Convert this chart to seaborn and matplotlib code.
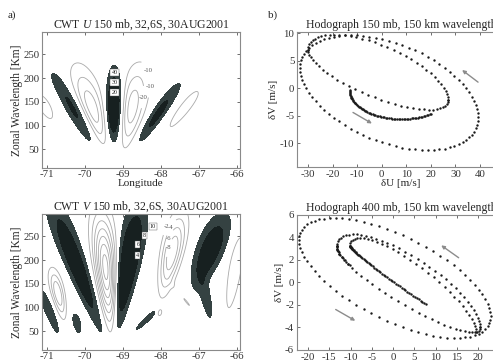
import numpy as np
import matplotlib
matplotlib.use("Agg")
import matplotlib.pyplot as plt
import seaborn as sns

# ---- CWT panels: lobes ----
# (lon_top, wl_top, lon_bottom, wl_bottom, width_top, width_bottom, amplitude)
u_lobes = [
    (-70.83, 213, -69.69, 51, 0.50, 0.40, 25),
    (-70.18, 232, -69.43, 44, 0.95, 0.55, -36),
    (-69.20, 230, -69.24, 44, 0.55, 0.50, 45),
    (-68.55, 234, -68.95, 44, 0.95, 0.55, -36),
    (-67.50, 190, -68.64, 58, 0.45, 0.35, 24),
    (-67.05, 172, -67.72, 98, 0.35, 0.28, -13),
    (-71.20, 165, -70.90, 115, 0.35, 0.28, -13),
]
v_lobes = [
    (-70.93, 340, -69.53, 44, 0.85, 0.35, 9),
    (-71.15, 138, -70.71, 48, 0.25, 0.20, 5),
    (-70.25, 86, -70.15, 48, 0.20, 0.18, 4),
    (-70.85, 185, -70.55, 75, 0.45, 0.30, -8),
    (-69.60, 330, -69.30, 40, 1.00, 0.45, -15),
    (-68.55, 335, -69.15, 45, 0.95, 0.35, 12),
    (-68.10, 96, -68.63, 54, 0.18, 0.15, 4),
    (-67.45, 310, -67.95, 120, 0.80, 0.50, -10),
    (-67.45, 127, -67.16, 96, 0.12, 0.12, -2.5),
    (-68.03, 98, -68.03, 86, 0.08, 0.08, -2.5),
    (-66.35, 300, -67.05, 140, 0.90, 0.65, 9),
    (-66.90, 160, -66.70, 80, 0.25, 0.20, 4),
    (-65.90, 250, -66.20, 100, 0.35, 0.28, -4),
]
u_fill = [10, 20]
u_neg = [-30, -20, -10]
v_fill = [2, 5]
v_neg = [-14, -12, -10, -8, -6, -4, -2]
u_boxes = [(-69.21, 212, "40"), (-69.21, 191, "30"), (-69.21, 170, "20")]
v_boxes = [(-68.20, 271, "10"), (-68.42, 252, "8"), (-68.60, 233, "6"), (-68.60, 210, "4")]
u_label_pos = [(-68.15, 222), (-68.33, 183), (-68.45, 160)]
v_label_pos = [(-68.25, 285), (-67.75, 270), (-67.75, 245), (-67.75, 225)]

lon_ticks = [-71, -70, -69, -68, -67, -66]
wl_ticks = [50, 100, 150, 200, 250]

# ---- hodographs: dotted arcs ----
# u = cu + a*cos t ; v = cv + b1*cos t + b2*sin t  (t in degrees)
# (cu, cv, a, b1, b2, t_start, t_end, n_dots)
hodo150_arcs = [
    (3.0, -0.8, 36.2, -4.5, 9.4, 0, 360, 84),
    (-1.5, 2.4, 28.5, -4.6, 5.7, 0, 180, 36),
    (-1.5, 2.4, 28.5, -4.6, 4.3, 180, 360, 34),
    (8.0, -0.4, 21.0, 0.0, 5.2, 180, 305, 70),
]
hodo400_arcs = [
    (0.4, 0.4, 22.5, -3.4, 4.1, 0, 360, 76),
    (3.6, -0.4, 16.9, -3.6, 3.0, 0, 180, 38),
    (3.6, -0.4, 16.9, -3.6, 1.8, 180, 360, 34),
    (3.6, -0.4, 16.9, -3.6, 1.8, 180, 215, 14),
    (4.7, -0.57, 14.8, -3.83, 2.4, 0, 180, 34),
    (4.7, -0.57, 14.8, -3.83, 0.6, 180, 282, 60),
]
hodo150_arrows = [((-11.7, -4.4), (-4.0, -6.4)), ((39.2, 1.1), (32.7, 3.3))]
hodo400_arrows = [((-13.5, -2.4), (-8.9, -3.4)), ((15.4, 2.2), (11.3, 3.3))]


def lobe_field(lon, wl, lobe, thr):
    lt, wt, lb, wb, w_top, w_bot, amp = lobe
    k = np.sqrt(2 * np.log(abs(amp) / thr))
    frac = (wl - wb) / (wt - wb)
    lon_c = lb + frac * (lt - lb)
    width = w_bot + np.clip(frac, 0, 1) * (w_top - w_bot)
    sx = width / 2 / k
    s = (frac - 0.5) * 2
    return amp * np.exp(-0.5 * ((lon - lon_c) / sx) ** 2 - 0.5 * (s * k) ** 2)


def arc_points(arcs):
    us, vs = [], []
    for cu, cv, a, b1, b2, t0, t1, n in arcs:
        t = np.deg2rad(np.linspace(t0, t1, n, endpoint=(t1 - t0) < 360))
        us.append(cu + a * np.cos(t))
        vs.append(cv + b1 * np.cos(t) + b2 * np.sin(t))
    return np.concatenate(us), np.concatenate(vs)


sns.set_theme(style="ticks")
plt.rcParams["font.family"] = ["Liberation Serif", "DejaVu Serif"]
plt.rcParams["mathtext.fontset"] = "custom"
plt.rcParams["mathtext.rm"] = "Liberation Serif"
plt.rcParams["mathtext.it"] = "Liberation Serif:italic"
plt.rcParams["axes.unicode_minus"] = False

fig = plt.figure(figsize=(4.93, 3.64), dpi=100)
ax_u = fig.add_axes([0.0852, 0.5398, 0.4016, 0.3723])
ax_v = fig.add_axes([0.0852, 0.0398, 0.4016, 0.3723])
ax_h1 = fig.add_axes([0.6024, 0.5412, 0.4211, 0.3709])
ax_h2 = fig.add_axes([0.6024, 0.0385, 0.4211, 0.3709])

LON, WL = np.meshgrid(np.linspace(-71.4, -65.6, 320), np.linspace(0, 340, 320))


def cwt_panel(ax, lobes, fill, neg, boxes, label_pos, title):
    field = sum(lobe_field(LON, WL, lb, fill[0]) for lb in lobes)
    ax.contourf(LON, WL, field, levels=[fill[0], fill[1], 1e9],
                colors=["#354242", "#172020"])
    cs = ax.contour(LON, WL, field, levels=neg, colors="#a9a9a9",
                    linewidths=0.6, linestyles="solid")
    labels = ax.clabel(cs, manual=label_pos, fontsize=4.8, fmt="%d", colors="#555555")
    for lab in labels:
        lab.set_rotation(0)
    for lon, wl, txt in boxes:
        ax.text(lon, wl, txt, fontsize=4.3, ha="center", va="center", color="k",
                bbox=dict(boxstyle="square,pad=0.2", fc="white", ec="#555555", lw=0.3))
    ax.set_xlim(-71.12, -65.91)
    ax.set_ylim(12, 297)
    ax.set_xticks(lon_ticks)
    ax.set_yticks(wl_ticks)
    ax.set_title(title, fontsize=8.5, pad=3)
    ax.set_ylabel("Zonal Wavelength [Km]", fontsize=8.3, labelpad=0)


def style(ax):
    ax.tick_params(direction="in", length=2, width=0.5, labelsize=7.8, pad=2,
                   top=True, right=True, colors="#333333")
    for sp in ax.spines.values():
        sp.set_color("#8a8a8a")
        sp.set_linewidth(0.8)


cwt_panel(ax_u, u_lobes, u_fill, u_neg, u_boxes, u_label_pos,
          "CWT $U$ 150 mb, 32,6S, 30AUG2001")
ax_u.set_xlabel("Longitude", fontsize=8, labelpad=0)
cwt_panel(ax_v, v_lobes, v_fill, v_neg, v_boxes, v_label_pos,
          "CWT $V$ 150 mb, 32,6S, 30AUG2001")


def hodo_panel(ax, arcs, arrows, title):
    u, v = arc_points(arcs)
    sns.scatterplot(x=u, y=v, ax=ax, s=3.0, color="k", linewidth=0, legend=False)
    for tail, head in arrows:
        ax.annotate("", xy=head, xytext=tail,
                    arrowprops=dict(arrowstyle="-|>", color="#8c8c8c", lw=1.0,
                                    mutation_scale=5, shrinkA=0, shrinkB=0))
    ax.set_title(title, fontsize=8.5, pad=3)
    ax.set_ylabel("\u03b4V [m/s]", fontsize=8, labelpad=1)


hodo_panel(ax_h1, hodo150_arcs, hodo150_arrows, "Hodograph 150 mb, 150 km wavelength")
ax_h1.set_xlim(-34.5, 50)
ax_h1.set_ylim(-14.3, 10.2)
ax_h1.set_xticks([-30, -20, -10, 0, 10, 20, 30, 40])
ax_h1.set_yticks([-10, -5, 0, 5, 10])
ax_h1.set_xlabel("\u03b4U [m/s]", fontsize=8, labelpad=0)

hodo_panel(ax_h2, hodo400_arcs, hodo400_arrows, "Hodograph 400 mb, 150 km wavelength")
ax_h2.set_xlim(-22.6, 26.2)
ax_h2.set_ylim(-6, 6)
ax_h2.set_xticks([-20, -15, -10, -5, 0, 5, 10, 15, 20])
ax_h2.set_yticks([-6, -4, -2, 0, 2, 4, 6])

for ax in (ax_u, ax_v, ax_h1, ax_h2):
    style(ax)

fig.text(12 / 493, 1 - 15 / 364, "a)", fontsize=8, ha="center", va="center")
fig.text(273 / 493, 1 - 15 / 364, "b)", fontsize=8, ha="center", va="center")

fig.savefig("out.png", dpi=100)
